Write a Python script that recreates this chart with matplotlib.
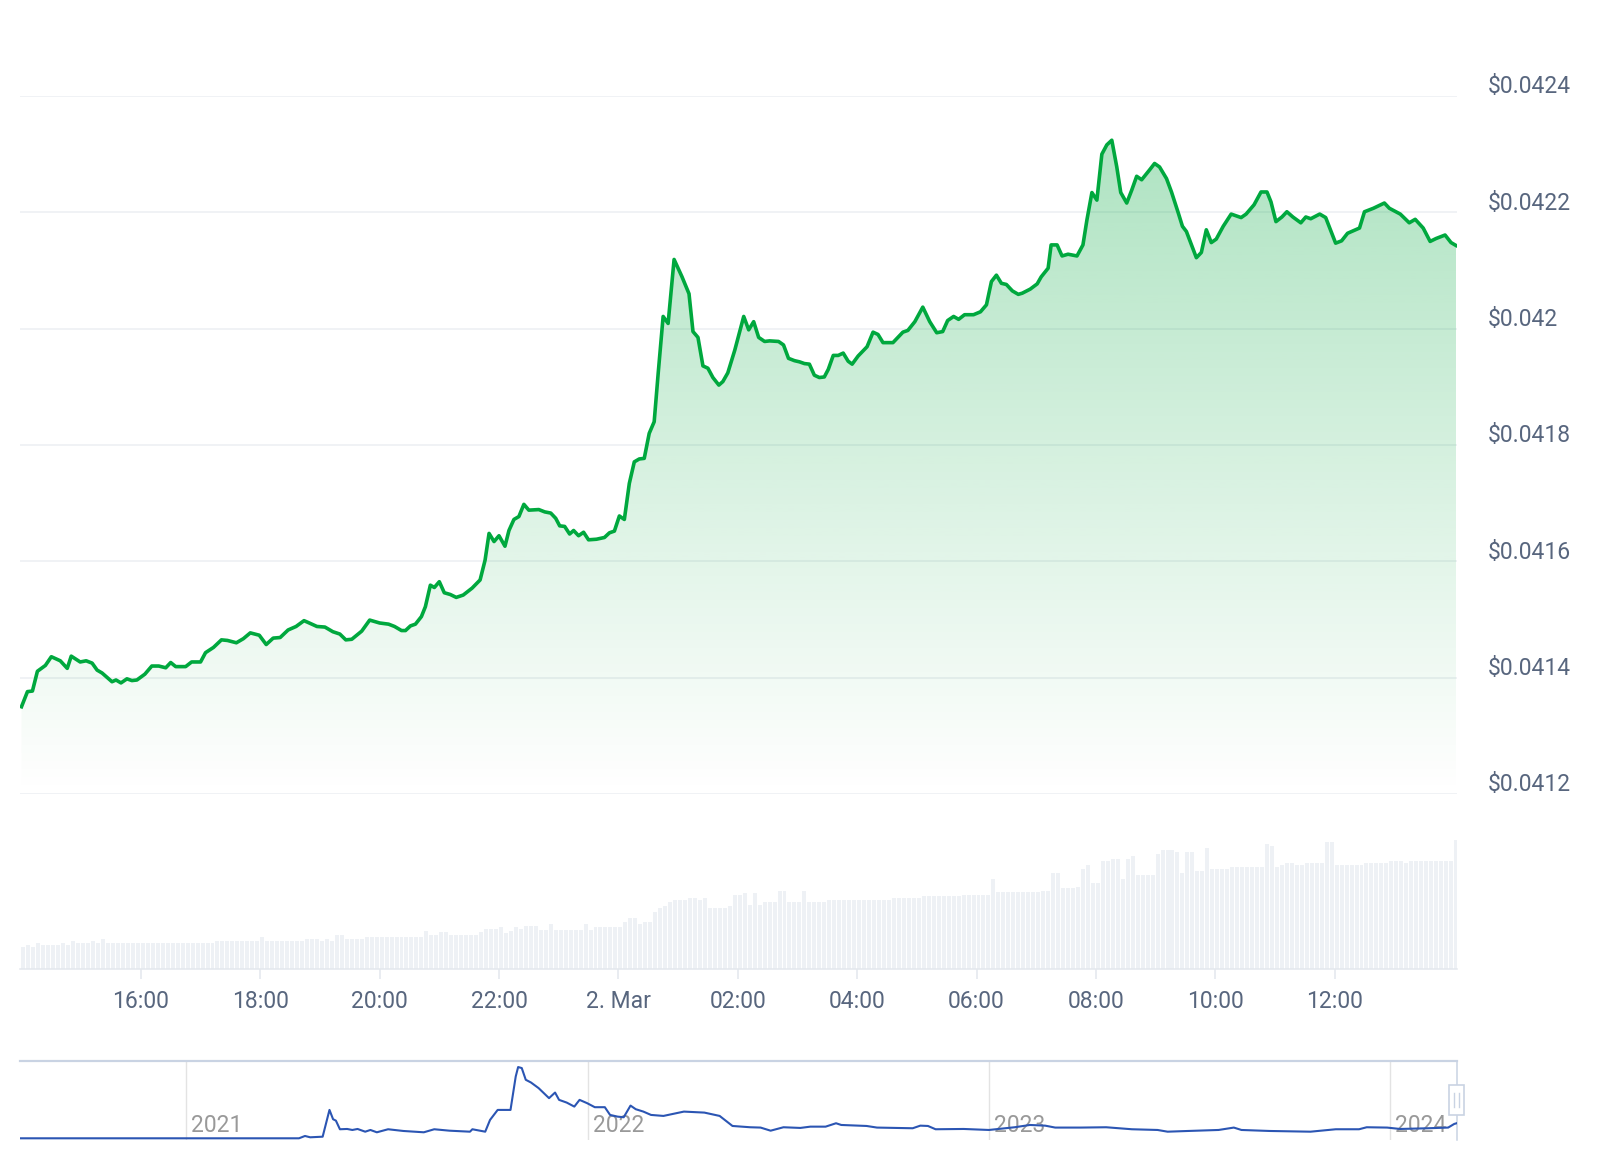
import matplotlib
matplotlib.use("Agg")
import matplotlib.pyplot as plt
import matplotlib.transforms as mtransforms
from matplotlib.colors import to_rgb
from matplotlib.patches import Polygon, Rectangle
import numpy as np

plt.rcParams['font.family'] = ['Roboto', 'DejaVu Sans']

# ---- data -------------------------------------------------------------
# price, minutes after 1 Mar 14:00
price_minutes = [
    0, 6, 11, 16, 24, 30, 39, 46, 50, 59, 65, 71, 76, 81, 91, 95, 100, 106,
    111, 116, 124, 131, 138, 145, 150, 155, 165, 171, 180, 185, 193, 201,
    207, 216, 223, 230, 239, 246, 253, 260, 268, 276, 284, 288, 297, 305,
    313, 320, 326, 332, 342, 350, 360,
    369, 375, 382, 386, 391, 396, 402, 406, 411, 415, 420, 425, 431, 437,
    444, 453, 461, 466, 470, 475, 480, 486, 490, 495, 500, 505, 510, 520,
    526, 532, 537, 541, 546, 551, 555, 560, 565, 570, 578, 586, 591, 596,
    601, 606, 611, 616, 621, 626, 631, 636, 640, 645, 650, 656, 664, 671,
    675, 680, 685, 690, 695, 701, 705, 710,
    717, 726, 731, 736, 741, 747, 752, 761, 766, 771, 777, 782, 787, 792,
    797, 802, 807, 811, 816, 821, 826, 831, 835, 841, 850, 856, 861, 866,
    876, 886, 891, 898, 906, 913, 920, 926, 931, 937, 942, 948, 957, 964,
    970, 975, 980, 985, 990, 996, 1002, 1006, 1014, 1021, 1025, 1032, 1035,
    1041, 1046, 1052, 1061, 1067, 1071, 1076, 1081, 1086, 1091, 1096, 1101,
    1105, 1111, 1116, 1121, 1126, 1134, 1139, 1144, 1151, 1156, 1163, 1167,
    1171, 1181, 1186, 1191, 1196, 1201, 1208, 1216, 1226, 1231, 1239, 1246,
    1252, 1256, 1261, 1267, 1272, 1278, 1286, 1291, 1296, 1305, 1311, 1321,
    1327, 1333, 1345, 1350, 1359, 1364, 1370, 1375, 1386, 1395, 1401, 1409,
    1416, 1422, 1431, 1437, 1442,
]
price_usd = [
    0.041350, 0.041376, 0.041377, 0.041411, 0.041421, 0.041436, 0.041429,
    0.041416, 0.041437, 0.041427, 0.041429, 0.041425, 0.041413, 0.041408,
    0.041393, 0.041396, 0.041391, 0.041398, 0.041395, 0.041396, 0.041406,
    0.041420, 0.041420, 0.041417, 0.041426, 0.041419, 0.041419, 0.041427,
    0.041427, 0.041443, 0.041452, 0.041465, 0.041464, 0.041460, 0.041467,
    0.041477, 0.041473, 0.041457, 0.041468, 0.041469, 0.041482, 0.041488,
    0.041498, 0.041495, 0.041488, 0.041487, 0.041479, 0.041475, 0.041465,
    0.041466, 0.041480, 0.041499, 0.041494,
    0.041492, 0.041488, 0.041481, 0.041481, 0.041489, 0.041492, 0.041505,
    0.041522, 0.041559, 0.041555, 0.041565, 0.041546, 0.041543, 0.041538,
    0.041542, 0.041554, 0.041568, 0.041602, 0.041648, 0.041634, 0.041644,
    0.041626, 0.041653, 0.041672, 0.041677, 0.041698, 0.041688, 0.041689,
    0.041685, 0.041683, 0.041674, 0.041661, 0.041660, 0.041647, 0.041653,
    0.041644, 0.041650, 0.041637, 0.041638, 0.041641, 0.041649, 0.041652,
    0.041678, 0.041672, 0.041734, 0.041771, 0.041776, 0.041777, 0.041820,
    0.041840, 0.041923, 0.042021, 0.042009, 0.042119, 0.042089, 0.042060,
    0.041995, 0.041985, 0.041936, 0.041932, 0.041916, 0.041903, 0.041909,
    0.041924,
    0.041963, 0.042021, 0.041998, 0.042012, 0.041985, 0.041978, 0.041979,
    0.041978, 0.041972, 0.041949, 0.041945, 0.041943, 0.041940, 0.041939,
    0.041920, 0.041916, 0.041917, 0.041930, 0.041954, 0.041954, 0.041958,
    0.041944, 0.041939, 0.041953, 0.041969, 0.041994, 0.041990, 0.041976,
    0.041976, 0.041994, 0.041997, 0.042012, 0.042037, 0.042012, 0.041993,
    0.041995, 0.042014, 0.042021, 0.042016, 0.042024, 0.042024, 0.042029,
    0.042041, 0.042081, 0.042092, 0.042078, 0.042076, 0.042065, 0.042059,
    0.042061, 0.042068, 0.042077, 0.042089, 0.042104, 0.042144, 0.042144,
    0.042125, 0.042128, 0.042125, 0.042144, 0.042187, 0.042234, 0.042221,
    0.042300, 0.042316, 0.042324, 0.042278, 0.042234, 0.042216, 0.042238,
    0.042262, 0.042256, 0.042273, 0.042284, 0.042278, 0.042258, 0.042235,
    0.042198, 0.042176, 0.042167, 0.042122, 0.042131, 0.042170, 0.042148,
    0.042154, 0.042176, 0.042197, 0.042191, 0.042197, 0.042213, 0.042235,
    0.042235, 0.042218, 0.042184, 0.042192, 0.042201, 0.042192, 0.042182,
    0.042192, 0.042189, 0.042197, 0.042191, 0.042147, 0.042151, 0.042164,
    0.042173, 0.042201, 0.042207, 0.042211, 0.042216, 0.042207, 0.042197,
    0.042182, 0.042188, 0.042173, 0.042150, 0.042155, 0.042161, 0.042148,
    0.042143,
]

price_ticks = [0.0412, 0.0414, 0.0416, 0.0418, 0.0420, 0.0422, 0.0424]

# 5-minute volume bars (relative units), one row per hour from 14:00
volume = [
    22, 24, 22, 26, 24, 24, 24, 24, 26, 24, 28, 26,
    26, 26, 28, 26, 30, 26, 26, 26, 26, 26, 26, 26,
    26, 26, 26, 26, 26, 26, 26, 26, 26, 26, 26, 26,
    26, 26, 26, 28, 28, 28, 28, 28, 28, 28, 28, 28,
    32, 28, 28, 28, 28, 28, 28, 28, 28, 30, 30, 30,
    28, 30, 28, 34, 34, 30, 30, 30, 30, 32, 32, 32,
    32, 32, 32, 32, 32, 32, 32, 32, 32, 38, 34, 34,
    37, 37, 34, 34, 34, 34, 34, 34, 37, 40, 40, 40,
    42, 36, 38, 42, 40, 43, 43, 43, 39, 39, 45, 39,
    39, 39, 39, 39, 39, 45, 39, 42, 42, 42, 42, 42,
    42, 47, 51, 51, 45, 47, 47, 57, 61, 63, 67, 69,
    69, 69, 71, 71, 69, 71, 61, 61, 61, 61, 63, 74,
    74, 76, 64, 76, 64, 67, 67, 67, 78, 78, 67, 67,
    67, 78, 67, 67, 67, 67, 69, 69, 69, 69, 69, 69,
    69, 69, 69, 69, 69, 69, 69, 71, 71, 71, 71, 71,
    71, 73, 73, 73, 73, 73, 73, 73, 73, 74, 74, 74,
    74, 74, 74, 90, 77, 77, 77, 77, 77, 77, 77, 77,
    77, 78, 78, 96, 96, 81, 81, 81, 82, 100, 104, 86,
    86, 108, 108, 110, 110, 90, 110, 113, 94, 94, 94, 94,
    115, 119, 119, 119, 117, 96, 117, 117, 98, 98, 121, 100,
    100, 100, 100, 102, 102, 102, 102, 102, 102, 102, 125, 123,
    102, 104, 106, 106, 104, 104, 106, 106, 106, 106, 127, 127,
    104, 104, 104, 104, 104, 104, 106, 106, 106, 106, 106, 108,
    108, 108, 106, 108, 108, 108, 108, 108, 108, 108, 108, 108,
    129,
]

tick_hours = [16, 18, 20, 22, 0, 2, 4, 6, 8, 10, 12]
tick_labels = ["16:00", "18:00", "20:00", "22:00", "2. Mar", "02:00",
               "04:00", "06:00", "08:00", "10:00", "12:00"]

# long-term history for the navigator (fractional year, price in USD)
nav_year = [
    2020.586, 2021.281, 2021.296, 2021.309, 2021.340, 2021.357, 2021.366,
    2021.373, 2021.383, 2021.401, 2021.414, 2021.427, 2021.446, 2021.459,
    2021.475, 2021.503, 2021.541, 2021.592, 2021.618, 2021.656, 2021.707,
    2021.713, 2021.745, 2021.757, 2021.776, 2021.808, 2021.821, 2021.827,
    2021.836, 2021.846, 2021.859, 2021.878, 2021.904, 2021.919, 2021.929,
    2021.948, 2021.967, 2021.980, 2021.999, 2022.018, 2022.043, 2022.056,
    2022.075, 2022.090, 2022.107, 2022.120, 2022.139, 2022.158, 2022.189,
    2022.240, 2022.291, 2022.329, 2022.361, 2022.405, 2022.431, 2022.456,
    2022.488, 2022.530, 2022.555, 2022.593, 2022.619, 2022.632, 2022.695,
    2022.721, 2022.810, 2022.829, 2022.848, 2022.867, 2022.937, 2023.000,
    2023.064, 2023.102, 2023.140, 2023.165, 2023.229, 2023.292, 2023.356,
    2023.420, 2023.445, 2023.496, 2023.572, 2023.610, 2023.629, 2023.699,
    2023.801, 2023.864, 2023.922, 2023.941, 2023.992, 2024.024, 2024.093,
    2024.144, 2024.159, 2024.165,
]
nav_price = [
    0.0, 0.0, 0.0065, 0.0028, 0.0045, 0.0794, 0.0533,
    0.0494, 0.0253, 0.0261, 0.0233, 0.0261, 0.0185, 0.0233,
    0.0168, 0.0253, 0.0205, 0.0168, 0.0253, 0.0213, 0.0185,
    0.0253, 0.0185, 0.0514, 0.0794, 0.0794, 0.1729, 0.1993,
    0.1965, 0.1637, 0.1561, 0.1404, 0.1123, 0.1280, 0.1075,
    0.0999, 0.0887, 0.1075, 0.0982, 0.0870, 0.0870, 0.0654,
    0.0606, 0.0589, 0.0915, 0.0814, 0.0747, 0.0654, 0.0626,
    0.0747, 0.0719, 0.0626, 0.0345, 0.0309, 0.0300, 0.0213,
    0.0309, 0.0290, 0.0326, 0.0326, 0.0421, 0.0373, 0.0345,
    0.0300, 0.0281, 0.0354, 0.0345, 0.0253, 0.0261, 0.0233,
    0.0309, 0.0373, 0.0354, 0.0300, 0.0300, 0.0309, 0.0253,
    0.0233, 0.0185, 0.0205, 0.0233, 0.0300, 0.0233, 0.0205,
    0.0185, 0.0253, 0.0253, 0.0309, 0.0300, 0.0261, 0.0281,
    0.0300, 0.0401, 0.0421,
]
nav_years = [2021, 2022, 2023, 2024]

# ---- style --------------------------------------------------------------
GREEN = '#00a83e'
TEXT = '#58667e'
GRID = '#edf0f3'
BAR = '#eef1f5'
AXIS = '#e3e7ed'
NAV_LINE = '#2b55b3'
NAV_EDGE = '#c9d3e3'

W, H = 1600, 1168
fig = plt.figure(figsize=(W / 100, H / 100), dpi=100)
fig.patch.set_facecolor('white')


def box(x0, y0, x1, y1):
    """ pixel box (top-left origin) to figure fractions """
    return [x0 / W, 1 - y1 / H, (x1 - x0) / W, (y1 - y0) / H]


ax = fig.add_axes(box(20, 96, 1457, 794))
axv = fig.add_axes(box(20, 794, 1457, 969), sharex=ax)
axn = fig.add_axes(box(20, 1061, 1457, 1140))

t = np.array(price_minutes, dtype=float)
p = np.array(price_usd)
ymin, ymax = price_ticks[0], price_ticks[-1]

# ---- price panel --------------------------------------------------------
ax.set_xlim(-1.5, 1443)
ax.set_ylim(ymin, ymax)
ax.set_yticks(price_ticks)
ax.set_axisbelow(True)
ax.grid(axis='y', color=GRID, lw=1.2)
ax.tick_params(left=False, labelleft=False, bottom=False, labelbottom=False)
for s in ax.spines.values():
    s.set_visible(False)

# gradient fill under the line
grad = np.zeros((256, 1, 4))
grad[..., :3] = to_rgb(GREEN)
grad[..., 3] = np.linspace(0.0, 0.34, 256).reshape(-1, 1)
im = ax.imshow(grad, extent=[t[0], t[-1], ymin, ymax], origin='lower',
               aspect='auto', zorder=1, interpolation='bilinear')
verts = np.column_stack([np.r_[t[0], t, t[-1]], np.r_[ymin, p, ymin]])
clip = Polygon(verts, closed=True, transform=ax.transData,
               facecolor='none', edgecolor='none')
ax.add_patch(clip)
im.set_clip_path(clip)

ax.plot(t, p, color=GREEN, lw=2.6, solid_joinstyle='round', zorder=4)

lab_tr = mtransforms.offset_copy(ax.get_yaxis_transform(), fig=fig,
                                 x=31, y=9, units='dots')
for v in price_ticks:
    ax.text(1, v, f"${v:g}", transform=lab_tr, ha='left', va='center',
            fontsize=16.5, color=TEXT, clip_on=False)

# ---- volume panel -------------------------------------------------------
bar_minutes = np.arange(len(volume)) * 5
axv.bar(bar_minutes, volume, width=4, align='edge', color=BAR, zorder=1)
axv.set_ylim(0, max(volume) * 1.36)
for name, s in axv.spines.items():
    s.set_visible(name == 'bottom')
axv.spines['bottom'].set_color(AXIS)
axv.spines['bottom'].set_linewidth(1.1)
axv.set_yticks([])
tick_pos = [((h - 14) % 24) * 60 for h in tick_hours]
axv.set_xticks(tick_pos)
axv.set_xticklabels(tick_labels)
axv.tick_params(axis='x', length=7, width=1.1, color=AXIS,
                labelsize=16.5, labelcolor=TEXT, pad=8)

# ---- navigator ----------------------------------------------------------
axn.plot(nav_year, nav_price, color=NAV_LINE, lw=1.5, zorder=3)
axn.set_xlim(2020.586, 2024.166)
nmax = max(nav_price) * 1.085
axn.set_ylim(-nmax * 0.022, nmax)
axn.set_xticks(nav_years)
axn.grid(axis='x', color='#e3e3e3', lw=1.0, zorder=1)
axn.tick_params(bottom=False, labelbottom=False, left=False,
                labelleft=False)
for name, s in axn.spines.items():
    s.set_visible(name in ('top', 'right'))
    s.set_color(NAV_EDGE)
axn.spines['top'].set_linewidth(1.6)
axn.spines['right'].set_linewidth(1.1)

yr_tr = mtransforms.offset_copy(axn.get_xaxis_transform(), fig=fig,
                                x=5, y=0, units='dots')
for yr in nav_years:
    axn.text(yr, 0.18, str(yr), transform=yr_tr, ha='left', va='center',
             fontsize=16.5, color='#999999', zorder=2)

# drag handle at the right end of the navigator
axn.add_patch(Rectangle((0.9944, 0.32), 0.0105, 0.38,
                        transform=axn.transAxes, facecolor='white',
                        edgecolor=NAV_EDGE, lw=1.2, clip_on=False,
                        zorder=5))
for hx in (0.9982, 1.0012):
    axn.plot([hx, hx], [0.42, 0.6], transform=axn.transAxes,
             color=NAV_EDGE, lw=1.0, clip_on=False, zorder=6)

fig.savefig('out.png', dpi=100)
